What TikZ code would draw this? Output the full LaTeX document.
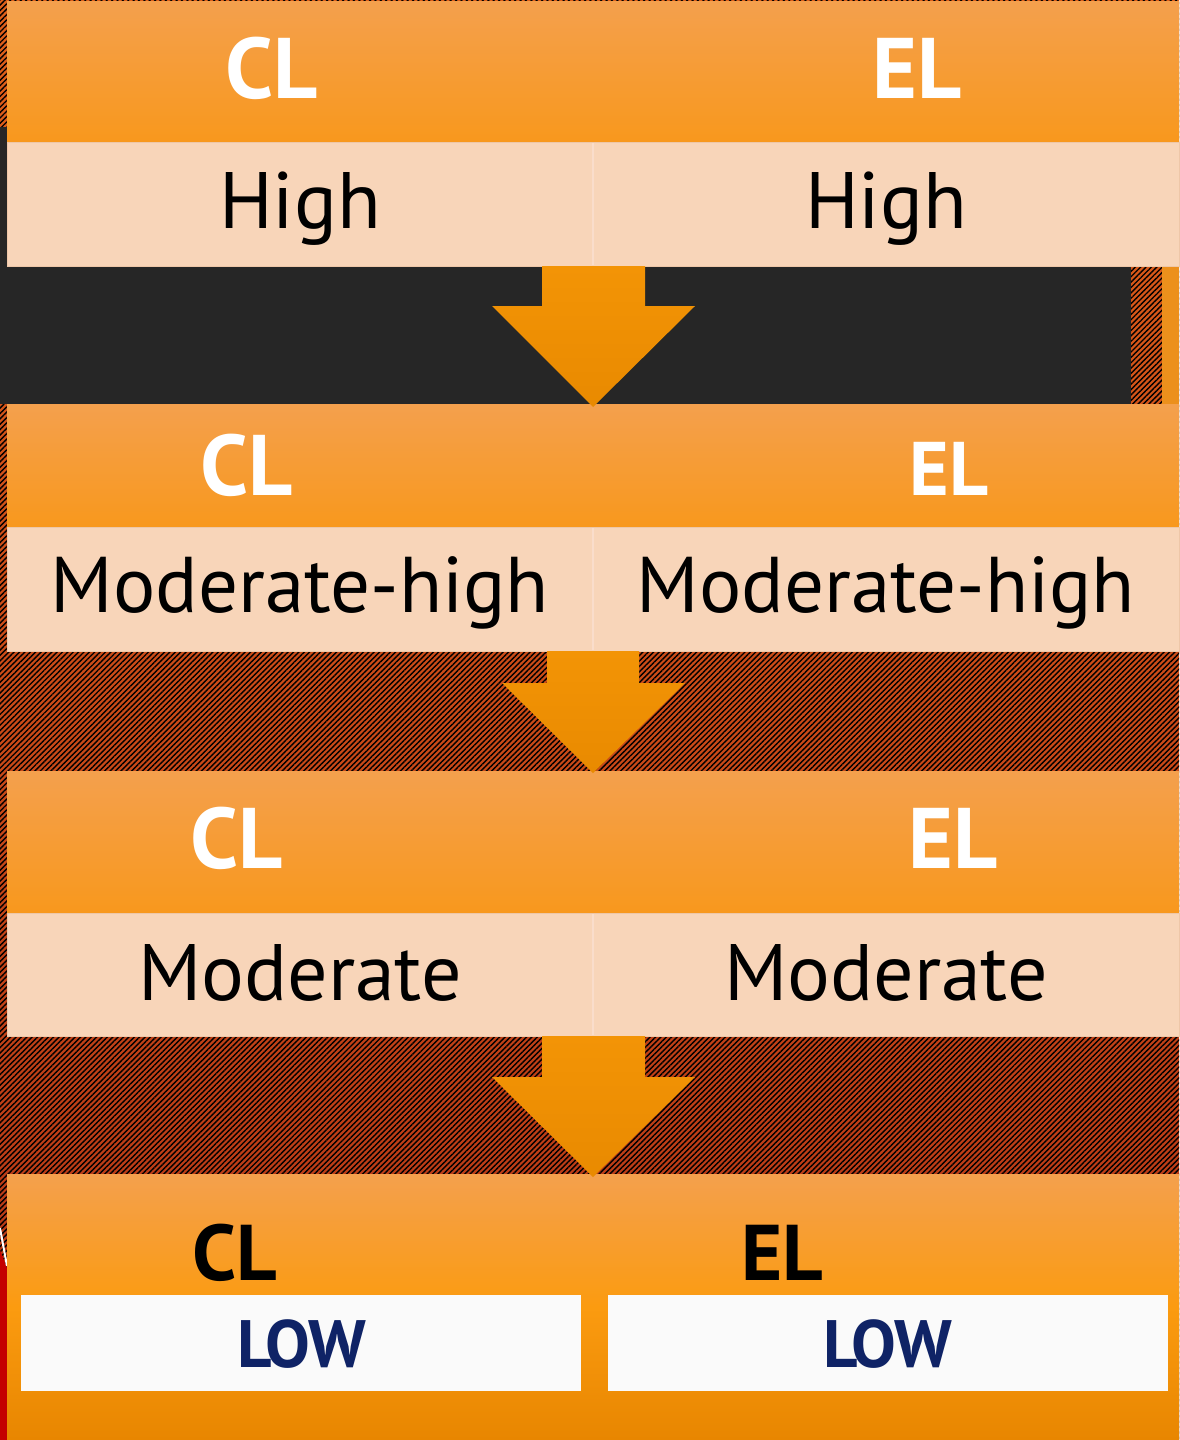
\documentclass[tikz,border=0pt]{standalone}
\usepackage{fontspec}
\setmainfont{PT Sans}
\usetikzlibrary{patterns.meta}
\definecolor{hdtop}{HTML}{F4A04D}
\definecolor{hdbot}{HTML}{F8981D}
\definecolor{rowc}{HTML}{F8D5B9}
\definecolor{rowline}{HTML}{EEC7A8}
\definecolor{rowdiv}{HTML}{FADDCB}
\definecolor{darkband}{HTML}{262626}
\definecolor{arrtop}{HTML}{F39406}
\definecolor{arrbot}{HTML}{E98A00}
\definecolor{hatchA}{HTML}{E0601A}
\definecolor{hatchB}{HTML}{B53516}
\definecolor{navy}{HTML}{0F2366}
\definecolor{botmid}{HTML}{FB9B10}
\definecolor{botend}{HTML}{E88600}
\definecolor{redstrip}{HTML}{C40000}
\tikzset{
  header/.style={top color=hdtop, bottom color=hdbot, draw=none},
  rowbox/.style={fill=rowc, draw=rowline, line width=1pt},
  blockarrow/.style={top color=arrtop, bottom color=arrbot, draw=none},
  hdtext/.style={text=white, font=\bfseries\fontsize{86}{90}\selectfont, anchor=base, inner sep=0pt},
  rowtext/.style={text=black, font=\fontsize{80}{84}\selectfont, anchor=base, inner sep=0pt},
  bottext/.style={text=black, font=\bfseries\fontsize{79}{83}\selectfont, anchor=base, inner sep=0pt},
  lowtext/.style={text=navy, font=\bfseries\fontsize{67}{70}\selectfont, anchor=base, inner sep=0pt},
  divider/.style={draw=rowdiv, line width=2pt},
}
\begin{document}
\begin{tikzpicture}[x=1pt,y=1pt]
\useasboundingbox (0,0) rectangle (1179,-1440);
% hatched background
\shade[top color=hatchA, bottom color=hatchB] (0,0) rectangle (1179,-1440);
\fill[pattern={Lines[angle=45,distance=3.8pt,line width=1.4pt]}, pattern color=black] (0,0) rectangle (1179,-1440);
% dark band
\fill[darkband] (0,-127) rectangle (1131,-404);
\fill[hdbot!95!black] (1162,-266) rectangle (1179,-404);
% red strip at bottom left
\fill[redstrip] (0,-1250) -- (7,-1268) -- (7,-1440) -- (0,-1440) -- cycle;
\draw[white, line width=2pt] (0,-1228) -- (7,-1266);

% ---- level 1
\shade[header] (7,-1) rectangle (1179,-142);
\draw[rowbox] (7,-142) rectangle (1179,-266);
\draw[divider] (593,-143) -- (593,-265);
\node[hdtext] (cl1) at (272,-98) {CL};
\node[hdtext] (el1) at (917,-98) {EL};
\node[rowtext] (r1l) at (300,-228) {High};
\node[rowtext] (r1r) at (886,-228) {High};

% ---- level 2
\shade[header] (7,-404) rectangle (1179,-527);
\draw[rowbox] (7,-527) rectangle (1179,-651);
\draw[divider] (593,-528) -- (593,-650);
\node[hdtext] (cl2) at (247,-495) {CL};
\node[hdtext, font=\bfseries\fontsize{76}{80}\selectfont] (el2) at (949,-495) {EL};
\node[rowtext, font=\fontsize{79}{83}\selectfont] (r2l) at (300,-612) {Moderate-high};
\node[rowtext, font=\fontsize{79}{83}\selectfont] (r2r) at (886,-612) {Moderate-high};

% ---- level 3
\shade[header] (7,-771) rectangle (1179,-913);
\draw[rowbox] (7,-913) rectangle (1179,-1036);
\draw[divider] (593,-914) -- (593,-1035);
\node[hdtext] (cl3) at (237,-868) {CL};
\node[hdtext] (el3) at (953,-868) {EL};
\node[rowtext] (r3l) at (300,-1000) {Moderate};
\node[rowtext] (r3r) at (886,-1000) {Moderate};

% ---- level 4
\shade[top color=hdtop, bottom color=botend, middle color=botmid] (7,-1174) rectangle (1179,-1440);
\fill[white!98!black] (21,-1295) rectangle (581,-1391);
\fill[white!98!black] (608,-1295) rectangle (1168,-1391);
\node[bottext] (cl4) at (235,-1280) {CL};
\node[bottext] (el4) at (782,-1280) {EL};
\node[lowtext] (l4l) at (302,-1367) {LOW};
\node[lowtext] (l4r) at (888,-1367) {LOW};

% ---- block arrows
\shade[blockarrow] (542,-266) -- (645,-266) -- (645,-306) -- (695,-306) -- (593,-407) -- (492,-306) -- (542,-306) -- cycle;
\shade[blockarrow] (547,-651) -- (639,-651) -- (639,-683) -- (685,-683) -- (593,-773) -- (502,-683) -- (547,-683) -- cycle;
\shade[blockarrow] (542,-1036) -- (645,-1036) -- (645,-1077) -- (695,-1077) -- (593,-1177) -- (492,-1077) -- (542,-1077) -- cycle;
\end{tikzpicture}
\end{document}
